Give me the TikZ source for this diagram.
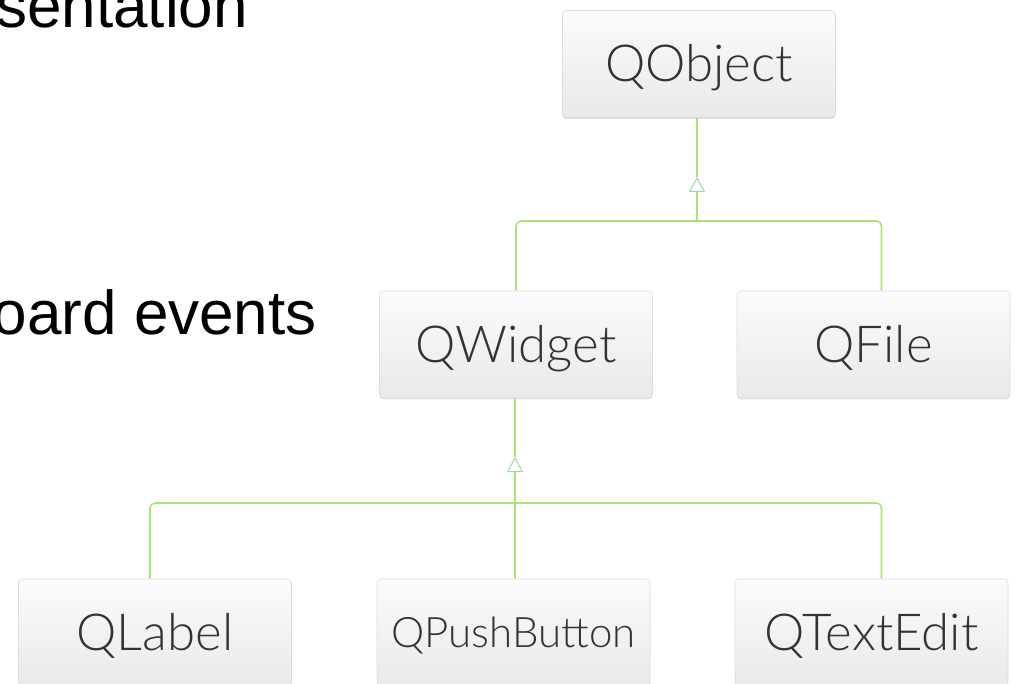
\documentclass[tikz,border=0pt]{standalone}
\usepackage{fontspec}
\IfFontExistsTF{Lato Light}{\newfontfamily\latofont{Lato Light}}{\newfontfamily\latofont{Lato}}
\newfontfamily\arialfont{Liberation Sans}
\usetikzlibrary{positioning}
\usetikzlibrary{arrows.meta}
\usetikzlibrary{shadows}
\definecolor{linkgreen}{HTML}{A4E874}
\definecolor{tipgreen}{HTML}{A2D8A6}
\definecolor{boxtop}{HTML}{FBFBFB}
\definecolor{boxbot}{HTML}{E8E9E8}
\definecolor{boxline}{HTML}{DCDCDC}
\definecolor{labeltext}{HTML}{333333}
\tikzset{
  classbox/.style={rectangle, rounded corners=4pt, draw=boxline, line width=0.6pt,
    top color=boxtop, bottom color=boxbot,
    drop shadow={shadow xshift=0pt, shadow yshift=-1.5pt, opacity=0.25, fill=black!50},
    minimum width=273pt, minimum height=107pt, inner sep=0pt,
    text=labeltext, text height=36pt, text depth=0pt,
    font=\latofont\fontsize{51}{60}\selectfont},
  smallbox/.style={classbox, text height=30pt,
    font=\latofont\fontsize{42}{50}\selectfont},
  link/.style={draw=linkgreen, line width=1.6pt, rounded corners=5pt},
  inherit/.style={-{Triangle[open, length=15pt, width=16pt, line width=1pt, color=tipgreen]}},
  slidetext/.style={inner sep=0pt, anchor=base east,
    font=\arialfont\fontsize{62}{70}\selectfont}
}
\begin{document}
\begin{tikzpicture}[x=1pt, y=-1pt]
      \useasboundingbox (0,0) rectangle (1015,684);
      % text cut off at the slide edge
      \node[slidetext] (rep) at (248,28) {sentation};
      \node[slidetext] (kbd) at (317,335) {oard events};
      % class boxes
      \node[classbox] (qobject) at (699,64) {QObject};
      \node[classbox] (qwidget) at (516,344.5) {QWidget};
      \node[classbox] (qfile) at (873.5,344.5) {QFile};
      \node[classbox] (qlabel) at (155,632.5) {QLabel};
      \node[smallbox] (qpushbutton) at (513.5,632.5) {QPushButton};
      \node[classbox] (qtextedit) at (871.5,632.5) {QTextEdit};
      % junctions and arrow tips
      \coordinate (jtop) at (697,221);
      \coordinate (tiptop) at (697,177);
      \coordinate (jbot) at (515,503);
      \coordinate (tipbot) at (515,457);
      \draw[link] (qwidget.north) |- (jtop) -| ([xshift=8pt]qfile.north);
      \draw[link, inherit] (jtop) -- (tiptop);
      \draw[link] (tiptop) -- (qobject.south -| tiptop);
      \draw[link] ([xshift=-5pt]qlabel.north) |- (jbot) -| ([xshift=10pt]qtextedit.north);
      \draw[link] (qpushbutton.north -| jbot) -- (jbot);
      \draw[link, inherit] (jbot) -- (tipbot);
      \draw[link] (tipbot) -- (qwidget.south -| tipbot);
    \end{tikzpicture}
\end{document}
